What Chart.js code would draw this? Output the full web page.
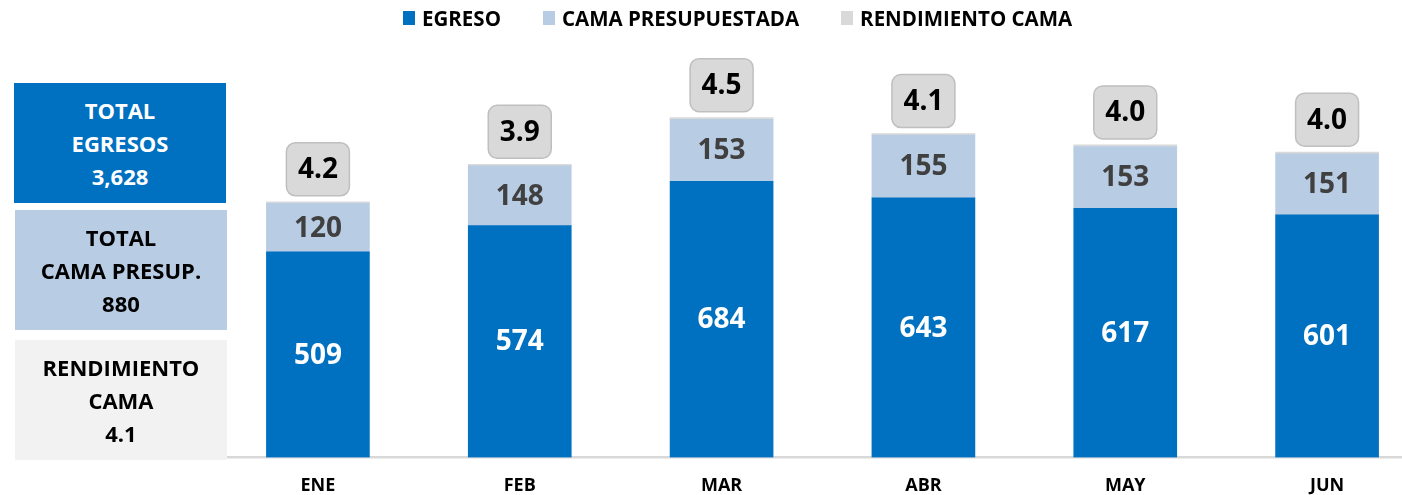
<!DOCTYPE html>
<html>
<head>
<meta charset="utf-8">
<script src="https://cdn.jsdelivr.net/npm/chart.js@4"></script>
<style>
  html, body { margin: 0; padding: 0; background: #fff; overflow: hidden; width: 1402px; height: 495px; }
  #wrap { position: relative; width: 1402px; height: 495px; overflow: hidden; }
  #grafico { position: absolute; left: 0; top: 0; }
  .panel {
    position: absolute; left: 15px; width: 212px; height: 120px;
    display: flex; align-items: center; justify-content: center; text-align: center;
    font-family: "Open Sans", sans-serif; font-weight: 700; font-size: 22px; line-height: 33px;
  }
  #leyenda {
    position: absolute; left: 403px; top: 4px; height: 28px;
    display: flex; align-items: center;
    font-family: "Open Sans", sans-serif; font-weight: 700; font-size: 20.5px; color: #000;
  }
  #leyenda .item { display: flex; align-items: center; margin-right: 42px; }
  #leyenda .cuadro { width: 12px; height: 14px; margin-right: 7px; }
</style>
</head>
<body>
<div id="wrap">
  <canvas id="grafico" width="1430" height="515"></canvas>
  <div id="leyenda"></div>
  <div class="panel" id="p1" style="top:83px; left:14px; background:#0070c0; color:#fff;"></div>
  <div class="panel" id="p2" style="top:210px; background:#b8cce4; color:#000;"></div>
  <div class="panel" id="p3" style="top:340px; background:#f2f2f2; color:#000;"></div>
</div>
<script>
// datos por mes
const meses = ['ENE', 'FEB', 'MAR', 'ABR', 'MAY', 'JUN'];
const egresos = [509, 574, 684, 643, 617, 601];
const camaPresup = [120, 148, 153, 155, 153, 151];
const rendimiento = [4.2, 3.9, 4.5, 4.1, 4.0, 4.0];

const AZUL = '#0070c0';
const CELESTE = '#b8cce4';
const GRIS = '#d9d9d9';
const FUENTE = '"Open Sans", sans-serif';

// paneles de totales
const totalEgr = egresos.reduce((a, b) => a + b, 0);
const totalCama = camaPresup.reduce((a, b) => a + b, 0);
document.getElementById('p1').innerHTML = 'TOTAL<br>EGRESOS<br>' + totalEgr.toLocaleString('en-US');
document.getElementById('p2').innerHTML = 'TOTAL<br>CAMA PRESUP.<br>' + totalCama;
document.getElementById('p3').innerHTML = 'RENDIMIENTO<br>CAMA<br>' + (totalEgr / totalCama).toFixed(1);

// etiquetas dentro y encima de las barras
const etiquetas = {
  id: 'etiquetas',
  afterDatasetsDraw(chart) {
    const ctx = chart.ctx;
    ctx.save();
    ctx.textAlign = 'center';
    ctx.textBaseline = 'middle';
    ctx.font = 'bold 28px ' + FUENTE;
    chart.getDatasetMeta(0).data.forEach((bar, i) => {
      ctx.fillStyle = '#fff';
      ctx.fillText(egresos[i], bar.x, (bar.y + bar.base) / 2 + 1);
    });
    chart.getDatasetMeta(1).data.forEach((bar, i) => {
      ctx.fillStyle = '#404040';
      ctx.fillText(camaPresup[i], bar.x, (bar.y + bar.base) / 2 + 1);
    });
    chart.getDatasetMeta(2).data.forEach((bar, i) => {
      const w = 63, h = 53;
      const x = bar.x - w / 2, y = bar.y - 6 - h;
      ctx.beginPath();
      ctx.roundRect(x, y, w, h, 9);
      ctx.fillStyle = GRIS;
      ctx.fill();
      ctx.lineWidth = 1.5;
      ctx.strokeStyle = '#bfbfbf';
      ctx.stroke();
      ctx.fillStyle = '#000';
      ctx.fillText(rendimiento[i].toFixed(1), bar.x, y + h / 2 + 1);
    });
    ctx.restore();
  }
};

const grafico = new Chart(document.getElementById('grafico'), {
  type: 'bar',
  data: {
    labels: meses,
    datasets: [
      { label: 'EGRESO', data: egresos, backgroundColor: AZUL },
      { label: 'CAMA PRESUPUESTADA', data: camaPresup, backgroundColor: CELESTE },
      { label: 'RENDIMIENTO CAMA', data: rendimiento, backgroundColor: GRIS }
    ]
  },
  options: {
    responsive: false,
    animation: false,
    layout: { padding: { left: 217, right: 2, top: 50, bottom: 0 } },
    datasets: { bar: { barThickness: 103 } },
    plugins: {
      legend: { display: false },
      tooltip: { enabled: false }
    },
    scales: {
      x: {
        stacked: true,
        grid: { display: false, drawTicks: false },
        border: { display: true, color: GRIS, width: 2.5 },
        ticks: { color: '#000', padding: 18, font: { family: FUENTE, weight: 'bold', size: 18 } }
      },
      y: {
        stacked: true,
        display: false,
        min: 0,
        max: 1009
      }
    }
  },
  plugins: [etiquetas]
});

// leyenda en HTML a partir de los datasets
const leyenda = document.getElementById('leyenda');
grafico.data.datasets.forEach(ds => {
  const item = document.createElement('div');
  item.className = 'item';
  item.innerHTML = '<span class="cuadro" style="background:' + ds.backgroundColor + '"></span>' + ds.label;
  leyenda.appendChild(item);
});
</script>
</body>
</html>
